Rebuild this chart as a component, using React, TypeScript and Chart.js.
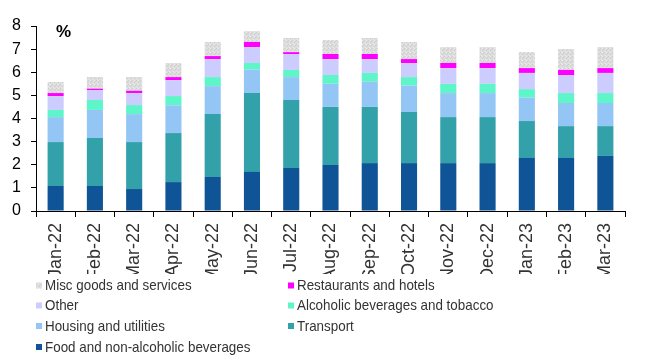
import React, { useEffect, useRef } from 'react';
import { Chart, registerables } from 'chart.js';

Chart.register(...registerables);

const categories = ['Jan-22', 'Feb-22', 'Mar-22', 'Apr-22', 'May-22', 'Jun-22', 'Jul-22', 'Aug-22', 'Sep-22', 'Oct-22', 'Nov-22', 'Dec-22', 'Jan-23', 'Feb-23', 'Mar-23'];
const food = [1.08, 1.08, 0.95, 1.25, 1.47, 1.69, 1.86, 1.99, 2.07, 2.07, 2.07, 2.07, 2.29, 2.29, 2.38];
const transport = [1.9, 2.08, 2.03, 2.12, 2.72, 3.41, 2.94, 2.51, 2.43, 2.21, 1.99, 1.99, 1.6, 1.38, 1.29];
const housing = [1.08, 1.21, 1.21, 1.2, 1.21, 1.01, 0.99, 1.0, 1.09, 1.14, 1.04, 1.04, 1.01, 1.0, 1.0];
const alcohol = [0.31, 0.43, 0.39, 0.4, 0.39, 0.29, 0.31, 0.38, 0.38, 0.37, 0.4, 0.4, 0.37, 0.43, 0.43];
const other = [0.6, 0.42, 0.52, 0.69, 0.78, 0.69, 0.69, 0.69, 0.6, 0.61, 0.68, 0.68, 0.7, 0.78, 0.87];
const restaurants = [0.13, 0.07, 0.1, 0.13, 0.13, 0.22, 0.08, 0.22, 0.22, 0.17, 0.22, 0.22, 0.21, 0.22, 0.21];
const misc = [0.48, 0.5, 0.59, 0.61, 0.61, 0.47, 0.61, 0.6, 0.69, 0.74, 0.69, 0.69, 0.69, 0.9, 0.91];

const seriesNames = [
  'Food and non-alcoholic beverages',
  'Transport',
  'Housing and utilities',
  'Alcoholic beverages and tobacco',
  'Other',
  'Restaurants and hotels',
  'Misc goods and services',
];
const unitLabel = '%';
const yMin = 0;
const yMax = 8;
const yStep = 1;

function makeStipple(): CanvasPattern | string {
  const c = document.createElement('canvas');
  c.width = 4;
  c.height = 4;
  const g = c.getContext('2d');
  if (!g) return '#DADADA';
  g.fillStyle = '#DDDDDD';
  g.fillRect(0, 0, 4, 4);
  g.fillStyle = '#CDCDCD';
  g.fillRect(0, 0, 1, 1);
  g.fillRect(2, 2, 1, 1);
  g.fillRect(3, 1, 1, 1);
  g.fillStyle = '#EAEAEA';
  g.fillRect(1, 3, 1, 1);
  g.fillRect(2, 0, 1, 1);
  const p = g.createPattern(c, 'repeat');
  return p || '#DADADA';
}

export default function App() {
  const ref = useRef<HTMLCanvasElement | null>(null);

  useEffect(() => {
    const canvas = ref.current;
    if (!canvas) return;
    const stipple = makeStipple();
    const colors: (string | CanvasPattern)[] = ['#0E5496', '#33A1A9', '#94C6F5', '#5EF5C8', '#CCCCFF', '#FF00FF', stipple];
    const values = [food, transport, housing, alcohol, other, restaurants, misc];

    const overlay = {
      id: 'overlay',
      afterDraw(chart: any) {
        const ctx = chart.ctx as CanvasRenderingContext2D;
        ctx.save();
        // clip rotated labels where legend begins
        ctx.fillStyle = '#FFFFFF';
        ctx.fillRect(0, 274, chart.width, chart.height - 274);
        // unit label
        ctx.fillStyle = '#000000';
        ctx.font = 'bold 17px "Liberation Sans", Arial, sans-serif';
        ctx.textBaseline = 'middle';
        ctx.textAlign = 'left';
        ctx.fillText(unitLabel, 56, 32);
        // legend, reversed order, two columns
        const order = chart.data.datasets.map((_: any, i: number) => i).reverse();
        const colX = [36, 288];
        const rowY = [285.5, 305.5, 326, 347];
        ctx.font = '13.4px "Liberation Sans", Arial, sans-serif';
        order.forEach((di: number, k: number) => {
          const ds = chart.data.datasets[di];
          const col = k % 2;
          const row = Math.floor(k / 2);
          const x = colX[col];
          const y = rowY[row];
          ctx.fillStyle = ds.backgroundColor;
          ctx.fillRect(x, y - 3, 6, 6);
          ctx.save();
          ctx.translate(x + 9, y + 0.5);
          ctx.scale(1, 1.12);
          ctx.fillStyle = '#333333';
          ctx.fillText(ds.label, 0, 0);
          ctx.restore();
        });
        ctx.restore();
      },
    };

    const chart = new Chart(canvas, {
      type: 'bar',
      data: {
        labels: categories,
        datasets: values.map((v, i) => ({
          label: seriesNames[i],
          data: v,
          backgroundColor: colors[i] as any,
          borderWidth: 0,
          categoryPercentage: 1,
          barPercentage: 0.41,
        })),
      },
      options: {
        responsive: false,
        animation: false,
        devicePixelRatio: 1,
        layout: { padding: { top: 26, right: 25, bottom: 87, left: 0 } },
        plugins: {
          legend: { display: false },
          tooltip: { enabled: false },
        },
        scales: {
          x: {
            stacked: true,
            afterFit: (s: any) => { s.height = 63; },
            grid: {
              offset: true,
              drawOnChartArea: false,
              drawTicks: true,
              tickLength: 6,
              color: '#000000',
              lineWidth: 1,
            },
            border: { display: true, color: '#000000', width: 1 },
            ticks: {
              autoSkip: false,
              minRotation: 90,
              maxRotation: 90,
              padding: 6,
              color: '#333333',
              font: { family: '"Liberation Sans", Arial, sans-serif', size: 18 },
            },
          },
          y: {
            stacked: true,
            min: yMin,
            max: yMax,
            afterFit: (s: any) => { s.width = 36; },
            grid: {
              drawOnChartArea: false,
              drawTicks: true,
              tickLength: 5,
              color: '#000000',
              lineWidth: 1,
            },
            border: { display: true, color: '#000000', width: 1 },
            ticks: {
              stepSize: yStep,
              padding: 10,
              color: '#000000',
              font: { family: '"Liberation Sans", Arial, sans-serif', size: 16 },
            },
          },
        },
      },
      plugins: [overlay],
    });

    return () => chart.destroy();
  }, []);

  return (
    <div style={{ position: 'fixed', left: 0, top: 0, width: 650, height: 361, background: '#fff' }}>
      <canvas ref={ref} width={650} height={361} style={{ display: 'block' }} />
    </div>
  );
}
